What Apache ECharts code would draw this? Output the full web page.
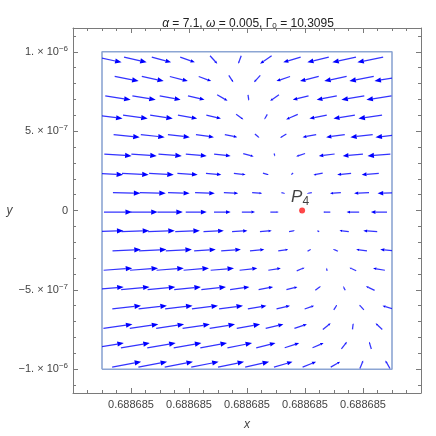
<!DOCTYPE html>
<html>
<head>
<meta charset="utf-8">
<script src="https://cdn.jsdelivr.net/npm/echarts@6/dist/echarts.min.js"></script>
<style>
html, body { margin: 0; padding: 0; background: #fff; }
#chart { width: 436px; height: 436px; }
</style>
</head>
<body>
<div id="chart"></div>
<script>
// x: offset from 0.688685 in units of 1e-7, y: units of 1e-7
const rowY = [9.5, 8.3, 7.1, 5.9, 4.7, 3.5, 2.3, 1.1, -0.1, -1.3, -2.5, -3.7, -4.9, -6.1, -7.3, -8.5, -9.7]
const colXA = [-9.5, -7.7, -5.9, -4.1, -2.3, -0.5, 1.3, 3.1, 4.9, 6.7, 8.5]
const colXB = [-8.3, -6.5, -4.7, -2.9, -1.1, 0.7, 2.5, 4.3, 6.1, 7.9, 9.7]
const colXC = [-8.9, -7.1, -5.3, -3.5, -1.7, 0.1, 1.9, 3.7, 5.5, 7.3, 9.1]
const rowCols = [colXA, colXB, colXC]

// vector components, same units
const vecX = [
    [1.70, 1.56, 1.33, 1.01, 0.50, -0.20, -0.80, -1.20, -1.48, -1.63, -1.78],
    [1.65, 1.51, 1.24, 0.86, 0.31, -0.43, -0.94, -1.29, -1.54, -1.68, -1.82],
    [1.75, 1.61, 1.44, 1.14, 0.72, 0.06, -0.61, -1.09, -1.39, -1.58, -1.73],
    [1.84, 1.70, 1.56, 1.33, 1.01, 0.50, -0.20, -0.80, -1.20, -1.48, -1.63],
    [1.80, 1.65, 1.51, 1.24, 0.86, 0.31, -0.43, -0.94, -1.29, -1.54, -1.68],
    [1.88, 1.75, 1.61, 1.44, 1.14, 0.72, 0.06, -0.61, -1.09, -1.39, -1.58],
    [1.91, 1.84, 1.70, 1.40, 1.06, 0.81, 0.40, -0.16, -0.64, -0.96, -1.18],
    [1.89, 1.80, 1.49, 1.36, 0.99, 0.69, 0.25, -0.34, -0.75, -1.03, -1.39],
    [1.93, 1.88, 1.75, 1.45, 1.15, 0.91, 0.58, 0.05, -0.49, -0.87, -1.11],
    [1.96, 1.91, 1.84, 1.70, 1.40, 1.06, 0.81, 0.40, -0.16, -0.64, -0.96],
    [1.95, 1.89, 1.80, 1.49, 1.36, 0.99, 0.69, 0.25, -0.34, -0.75, -1.03],
    [1.97, 1.93, 1.88, 1.75, 1.61, 1.22, 0.86, 0.54, -0.05, -0.46, -0.82],
    [1.99, 1.96, 1.91, 1.84, 1.70, 1.33, 1.00, 0.76, 0.38, -0.15, -0.60],
    [1.98, 1.95, 1.89, 1.80, 1.65, 1.28, 0.93, 0.65, 0.23, -0.32, -0.71],
    [2.00, 1.97, 1.93, 1.88, 1.75, 1.61, 1.22, 0.86, 0.54, 0.05, -0.46],
    [2.01, 1.99, 1.96, 1.91, 1.84, 1.70, 1.33, 1.00, 0.76, 0.38, -0.15],
    [2.00, 1.98, 1.95, 1.89, 1.80, 1.65, 1.28, 0.93, 0.65, 0.23, -0.32],
]
const vecY = [
    [-0.33, -0.33, -0.33, -0.33, -0.50, -0.50, -0.50, -0.33, -0.33, -0.33, -0.33],
    [-0.29, -0.29, -0.29, -0.29, -0.44, -0.44, -0.29, -0.29, -0.29, -0.29, -0.29],
    [-0.25, -0.25, -0.25, -0.25, -0.38, -0.38, -0.38, -0.25, -0.25, -0.25, -0.25],
    [-0.21, -0.21, -0.21, -0.21, -0.21, -0.32, -0.32, -0.32, -0.21, -0.21, -0.21],
    [-0.16, -0.16, -0.16, -0.16, -0.16, -0.24, -0.24, -0.16, -0.16, -0.16, -0.16],
    [-0.12, -0.12, -0.12, -0.12, -0.12, -0.18, -0.18, -0.18, -0.12, -0.12, -0.12],
    [-0.08, -0.08, -0.08, -0.08, -0.08, -0.08, -0.12, -0.12, -0.12, -0.08, -0.08],
    [-0.04, -0.04, -0.04, -0.04, -0.04, -0.04, -0.06, -0.06, -0.04, -0.04, -0.04],
    [0, 0, 0, 0, 0, 0, 0, 0, 0, 0, 0],
    [0.05, 0.05, 0.05, 0.05, 0.05, 0.05, 0.05, 0.07, 0.07, 0.07, 0.05],
    [0.09, 0.09, 0.09, 0.09, 0.09, 0.09, 0.09, 0.14, 0.14, 0.09, 0.09],
    [0.13, 0.13, 0.13, 0.13, 0.13, 0.13, 0.13, 0.20, 0.20, 0.20, 0.13],
    [0.17, 0.17, 0.17, 0.17, 0.17, 0.17, 0.17, 0.17, 0.26, 0.26, 0.26],
    [0.21, 0.21, 0.21, 0.21, 0.21, 0.21, 0.21, 0.21, 0.32, 0.32, 0.21],
    [0.26, 0.26, 0.26, 0.26, 0.26, 0.26, 0.26, 0.26, 0.39, 0.39, 0.39],
    [0.30, 0.30, 0.30, 0.30, 0.30, 0.30, 0.30, 0.30, 0.30, 0.45, 0.45],
    [0.34, 0.34, 0.34, 0.34, 0.34, 0.34, 0.34, 0.34, 0.34, 0.51, 0.51],
]

const regionX = [-10, 10, 10, -10, -10]
const regionY = [-10, -10, 10, 10, -10]
const pointP4 = [3.8, 0]

const xTickValues = [-8, -4, 0, 4, 8]
const xTickLabel = '0.688685'
const xMinorTicks = [-11, -10, -9, -7, -6, -5, -3, -2, -1, 1, 2, 3, 5, 6, 7, 9, 10, 11]
const yTickValues = [-10, -5, 0, 5, 10]
const yTickMant = ['\u22121. \u00d7 10', '\u22125. \u00d7 10', '0', '5. \u00d7 10', '1. \u00d7 10']
const yTickExp = ['\u22126', '\u22127', '', '\u22127', '\u22126']
const yMinorTicks = [-11, -9, -8, -7, -6, -4, -3, -2, -1, 1, 2, 3, 4, 6, 7, 8, 9, 11]

const FONT = 'Liberation Sans, Arial, sans-serif'
const FRAME = '#7a7a7a'
const LABEL = '#444'

const arrows = []
rowY.forEach((y, r) => {
    rowCols[r % 3].forEach((x, c) => {
        arrows.push([x, y, vecX[r][c], vecY[r][c]])
    })
})

const renderArrow = (params, api) => {
    const x = api.value(0)
    const y = api.value(1)
    const vx = api.value(2)
    const vy = api.value(3)
    const tail = api.coord([x - vx / 2, y - vy / 2])
    const head = api.coord([x + vx / 2, y + vy / 2])
    const dx = head[0] - tail[0]
    const dy = head[1] - tail[1]
    const len = Math.sqrt(dx * dx + dy * dy) || 1
    const ux = dx / len
    const uy = dy / len
    const h = Math.min(6.5, len * 0.28)
    const w = h * 0.4
    const bx = head[0] - ux * h
    const by = head[1] - uy * h
    const c0 = api.coord([Math.min(...regionX), Math.max(...regionY)])
    const c1 = api.coord([Math.max(...regionX), Math.min(...regionY)])
    return {
        type: 'group',
        clipPath: { type: 'rect', shape: { x: c0[0], y: c0[1], width: c1[0] - c0[0], height: c1[1] - c0[1] } },
        children: [
            {
                type: 'line',
                shape: { x1: tail[0], y1: tail[1], x2: bx, y2: by },
                style: { stroke: 'rgba(15,15,255,0.85)', lineWidth: 1.25 },
            },
            {
                type: 'polygon',
                shape: {
                    points: [
                        [head[0], head[1]],
                        [bx - uy * w, by + ux * w],
                        [bx + uy * w, by - ux * w],
                    ],
                },
                style: { fill: '#0000ff' },
            },
        ],
    }
}

const baseAxis = {
    type: 'value',
    splitLine: { show: false },
    axisLine: { show: true, onZero: false, lineStyle: { color: FRAME, width: 1 } },
}

const chart = echarts.init(document.getElementById('chart'))
chart.setOption({
    animation: false,
    title: {
        text: '{i|\u03b1} = 7.1, {i|\u03c9} = 0.005, \u0393{sub|0} = 10.3095',
        left: 243,
        top: 12,
        textAlign: 'center',
        textStyle: {
            fontFamily: FONT,
            fontSize: 12,
            fontWeight: 'normal',
            color: '#222',
            rich: {
                i: { fontFamily: FONT, fontSize: 12, fontStyle: 'italic', color: '#222' },
                sub: { fontFamily: FONT, fontSize: 8, color: '#222', verticalAlign: 'bottom', padding: [5, 0, 0, 0] },
            },
        },
    },
    grid: { left: 73, top: 28, width: 348, height: 366 },
    xAxis: [
        {
            ...baseAxis,
            min: -12,
            max: 12,
            position: 'bottom',
            axisTick: { show: true, inside: true, length: 5, customValues: xTickValues, lineStyle: { color: FRAME } },
            axisLabel: {
                customValues: xTickValues,
                formatter: () => xTickLabel,
                color: LABEL,
                fontFamily: FONT,
                fontSize: 11,
                margin: 6,
            },
            name: 'x',
            nameLocation: 'middle',
            nameGap: 26,
            nameTextStyle: { fontFamily: FONT, fontSize: 12, fontStyle: 'italic', color: LABEL },
        },
        {
            ...baseAxis,
            min: -12,
            max: 12,
            position: 'bottom',
            axisLine: { show: false, onZero: false },
            axisTick: { show: true, inside: true, length: 3, customValues: xMinorTicks, lineStyle: { color: FRAME } },
            axisLabel: { show: false },
        },
        {
            ...baseAxis,
            min: -12,
            max: 12,
            position: 'top',
            axisTick: { show: true, inside: true, length: 5, customValues: xTickValues, lineStyle: { color: FRAME } },
            axisLabel: { show: false },
        },
        {
            ...baseAxis,
            min: -12,
            max: 12,
            position: 'top',
            axisLine: { show: false, onZero: false },
            axisTick: { show: true, inside: true, length: 3, customValues: xMinorTicks, lineStyle: { color: FRAME } },
            axisLabel: { show: false },
        },
    ],
    yAxis: [
        {
            ...baseAxis,
            min: -11.5,
            max: 11.5,
            position: 'left',
            axisTick: { show: true, inside: true, length: 5, customValues: yTickValues, lineStyle: { color: FRAME } },
            axisLabel: {
                customValues: yTickValues,
                formatter: (v) => {
                    const i = yTickValues.indexOf(Math.round(v))
                    if (i < 0) return ''
                    return yTickExp[i] ? yTickMant[i] + '{sup|' + yTickExp[i] + '}' : yTickMant[i]
                },
                color: LABEL,
                fontFamily: FONT,
                fontSize: 11,
                margin: 5,
                rich: {
                    sup: { fontFamily: FONT, fontSize: 8, color: LABEL, verticalAlign: 'bottom', padding: [0, 0, 7, 0] },
                },
            },
            name: 'y',
            nameLocation: 'middle',
            nameRotate: 0,
            nameGap: 58,
            nameTextStyle: { fontFamily: FONT, fontSize: 12, fontStyle: 'italic', color: LABEL },
        },
        {
            ...baseAxis,
            min: -11.5,
            max: 11.5,
            position: 'left',
            axisLine: { show: false, onZero: false },
            axisTick: { show: true, inside: true, length: 3, customValues: yMinorTicks, lineStyle: { color: FRAME } },
            axisLabel: { show: false },
        },
        {
            ...baseAxis,
            min: -11.5,
            max: 11.5,
            position: 'right',
            axisTick: { show: true, inside: true, length: 5, customValues: yTickValues, lineStyle: { color: FRAME } },
            axisLabel: { show: false },
        },
        {
            ...baseAxis,
            min: -11.5,
            max: 11.5,
            position: 'right',
            axisLine: { show: false, onZero: false },
            axisTick: { show: true, inside: true, length: 3, customValues: yMinorTicks, lineStyle: { color: FRAME } },
            axisLabel: { show: false },
        },
    ],
    series: [
        {
            type: 'line',
            xAxisIndex: 0,
            yAxisIndex: 0,
            silent: true,
            symbol: 'none',
            lineStyle: { color: '#8ca5d3', width: 1.6 },
            data: regionX.map((x, i) => [x, regionY[i]]),
            z: 1,
        },
        {
            type: 'custom',
            xAxisIndex: 0,
            yAxisIndex: 0,
            silent: true,
            renderItem: renderArrow,
            encode: { x: 0, y: 1 },
            data: arrows,
            z: 2,
        },
        {
            type: 'scatter',
            xAxisIndex: 0,
            yAxisIndex: 0,
            silent: true,
            symbolSize: 6,
            itemStyle: { color: '#ff1a1a' },
            data: [pointP4],
            label: {
                show: true,
                position: [-8, -20],
                formatter: '{p|P}{s|4}',
                rich: {
                    p: { fontFamily: FONT, fontSize: 17, fontStyle: 'italic', color: '#111' },
                    s: { fontFamily: FONT, fontSize: 12, color: '#111', verticalAlign: 'bottom', padding: [8, 0, 0, 0] },
                },
            },
            z: 3,
        },
    ],
})
</script>
</body>
</html>
